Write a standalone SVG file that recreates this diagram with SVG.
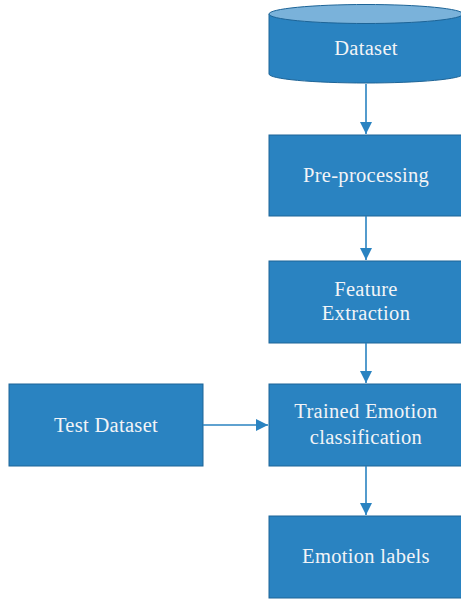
<svg xmlns="http://www.w3.org/2000/svg" width="461" height="599" viewBox="0 0 461 599">
<style>
.box{fill:#2a83c1;stroke:#1d6497;stroke-width:1}
.lbl{font-family:"Liberation Serif","DejaVu Serif",serif;font-size:20.5px;letter-spacing:0.3px;fill:#f2f4f7;text-anchor:middle}
.conn{stroke:#2a83c1;stroke-width:1.6;fill:none}
</style>
<defs>
<marker id="ah" viewBox="0 0 12 12" refX="12" refY="6" markerWidth="12" markerHeight="12" markerUnits="userSpaceOnUse" orient="auto">
<path d="M0,0 L12,6 L0,12 z" fill="#2a83c1"/>
</marker>
</defs>
<rect width="461" height="599" fill="#ffffff"/>
<g id="dataset">
<path class="box" d="M269,14 L269,74 A97,9 0 0 0 463,74 L463,14"/>
<ellipse cx="366" cy="14" rx="97" ry="9.5" fill="#7ab2da" stroke="#1d6497" stroke-width="1"/>
<text class="lbl" x="366" y="55">Dataset</text>
</g>
<g id="preprocessing">
<rect class="box" x="269" y="135" width="194" height="81"/>
<text class="lbl" x="366" y="182">Pre-processing</text>
</g>
<g id="feature">
<rect class="box" x="269" y="261" width="194" height="82"/>
<text class="lbl" x="366" y="296">Feature</text>
<text class="lbl" x="366" y="320">Extraction</text>
</g>
<g id="trained">
<rect class="box" x="269" y="384" width="194" height="82"/>
<text class="lbl" x="366" y="418">Trained Emotion</text>
<text class="lbl" x="366" y="444">classification</text>
</g>
<g id="testdataset">
<rect class="box" x="9" y="384" width="194" height="82"/>
<text class="lbl" x="106" y="432">Test Dataset</text>
</g>
<g id="labels">
<rect class="box" x="269" y="516" width="194" height="82"/>
<text class="lbl" x="366" y="563">Emotion labels</text>
</g>
<g id="connectors">
<line class="conn" x1="366" y1="84" x2="366" y2="134" marker-end="url(#ah)"/>
<line class="conn" x1="366" y1="216" x2="366" y2="260" marker-end="url(#ah)"/>
<line class="conn" x1="366" y1="343" x2="366" y2="383" marker-end="url(#ah)"/>
<line class="conn" x1="366" y1="466" x2="366" y2="515" marker-end="url(#ah)"/>
<line class="conn" x1="203" y1="425" x2="268" y2="425" marker-end="url(#ah)"/>
</g>
</svg>
